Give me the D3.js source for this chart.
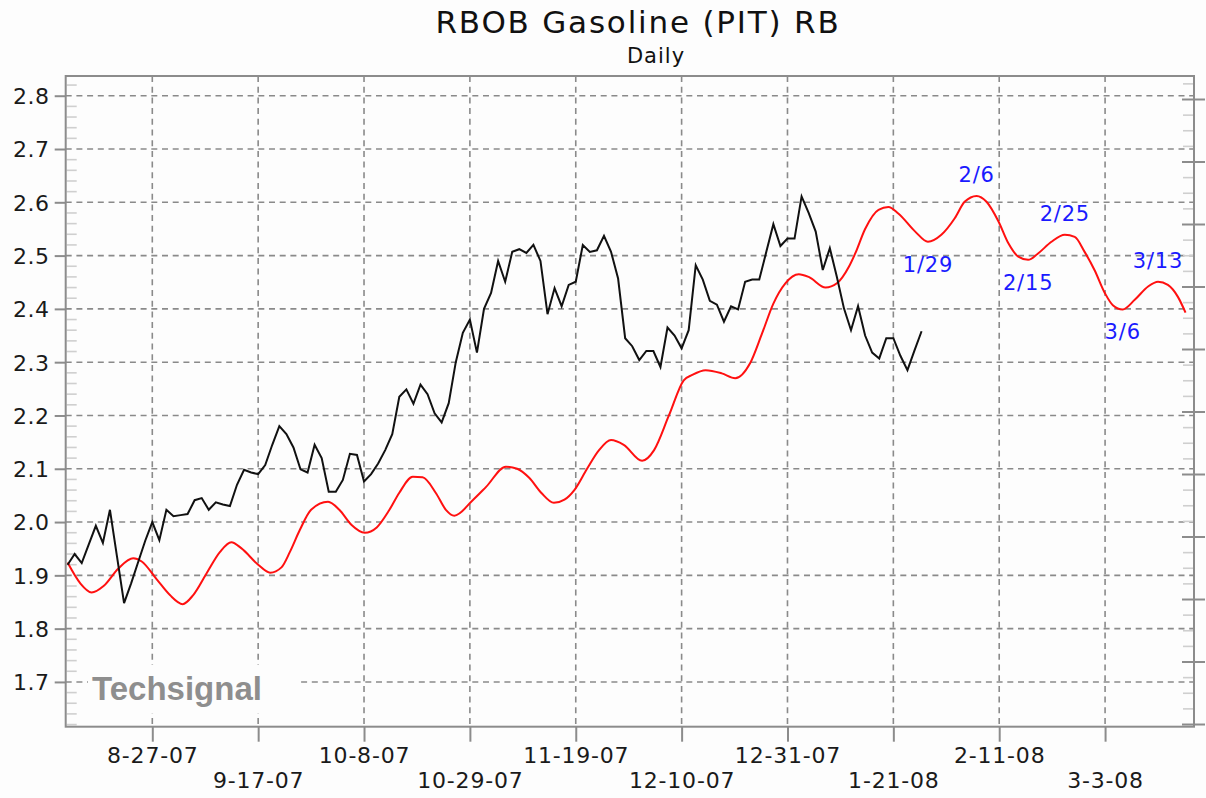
<!DOCTYPE html>
<html>
<head>
<meta charset="utf-8">
<script src="https://cdn.jsdelivr.net/npm/d3@7"></script>
<style>
  html, body { margin: 0; padding: 0; background: #fdfdfd; }
  svg { display: block; font-family: "DejaVu Sans", Verdana, sans-serif; }
</style>
</head>
<body>
<svg id="chart" width="1206" height="798"></svg>
<script>
// ---------------- DATA ----------------
const title = "RBOB Gasoline (PIT) RB";
const subtitle = "Daily";
const watermark = "Techsignal";

// x axis: trading-day index, tick labels every 15 trading days
const xTickIdx = [12, 27, 42, 57, 72, 87, 102, 117, 132, 147];
const xTickLabels = ["8-27-07", "9-17-07", "10-8-07", "10-29-07", "11-19-07",
                     "12-10-07", "12-31-07", "1-21-08", "2-11-08", "3-3-08"];

// y axis ticks (prices)
const yTicks = [1.7, 1.8, 1.9, 2.0, 2.1, 2.2, 2.3, 2.4, 2.5, 2.6, 2.7, 2.8];

// daily closes (black), one per trading day starting at index 0
const priceVals = [
  1.920, 1.940, 1.923, 1.958, 1.993, 1.961, 2.023, 1.935, 1.848, 1.885,
  1.925, 1.965, 2.000, 1.966, 2.023, 2.011, 2.013, 2.015, 2.041, 2.045,
  2.023, 2.037, 2.033, 2.030, 2.070, 2.098, 2.093, 2.090, 2.107, 2.145,
  2.180, 2.165, 2.140, 2.099, 2.093, 2.145, 2.120, 2.057, 2.057, 2.079,
  2.128, 2.126, 2.076, 2.090, 2.110, 2.135, 2.165, 2.235, 2.249, 2.222,
  2.258, 2.240, 2.204, 2.187, 2.223, 2.300, 2.355, 2.380, 2.318, 2.400,
  2.430, 2.490, 2.451, 2.507, 2.512, 2.505, 2.520, 2.490, 2.390, 2.439,
  2.405, 2.445, 2.451, 2.520, 2.507, 2.510, 2.537, 2.507, 2.457, 2.345,
  2.330, 2.304, 2.321, 2.321, 2.291, 2.365, 2.350, 2.326, 2.360, 2.482,
  2.455, 2.415, 2.408, 2.376, 2.405, 2.399, 2.451, 2.455, 2.455, 2.507,
  2.559, 2.518, 2.532, 2.532, 2.611, 2.580, 2.545, 2.473, 2.514, 2.460,
  2.401, 2.360, 2.405, 2.350, 2.318, 2.307, 2.345, 2.345, 2.312, 2.285,
  2.322, 2.358
];

// cycle projection (red): trading-day index and value
const cycleIdx = [
  0, 1.8, 3.4, 5.1, 7.2, 9.3, 10.5, 12.6, 14.5, 16.3,
  17.8, 19.7, 21.6, 23.2, 24.6, 27.0, 28.7, 30.3, 31.5, 32.9,
  34.5, 36.9, 38.5, 40.2, 42.1, 43.8, 45.6, 47.0, 48.9, 50.3,
  52.2, 53.6, 54.8, 57.4, 59.3, 62.1, 63.7, 65.4, 67.1, 68.9,
  70.4, 71.8, 73.6, 75.3, 77.0, 78.8, 81.4, 83.1, 85.2, 87.3,
  88.5, 90.4, 92.7, 94.6, 96.7, 98.4, 100.0, 101.7, 103.6, 105.0,
  107.4, 109.0, 110.7, 111.6, 113.0, 114.9, 116.3, 117.7, 120.1, 121.9,
  123.8, 125.7, 127.1, 128.8, 130.2, 131.9, 133.3, 134.7, 136.1, 137.5,
  139.4, 141.3, 142.7, 144.1, 145.5, 147.0, 148.1, 149.5, 151.2, 153.1,
  154.5, 155.9, 157.3, 158.4
];
const cycleVals = [
  1.924, 1.885, 1.868, 1.880, 1.913, 1.932, 1.926, 1.893, 1.863, 1.846,
  1.863, 1.904, 1.944, 1.962, 1.951, 1.920, 1.905, 1.915, 1.944, 1.985,
  2.023, 2.038, 2.023, 1.995, 1.980, 1.990, 2.023, 2.055, 2.085, 2.084,
  2.054, 2.023, 2.012, 2.041, 2.066, 2.104, 2.100, 2.083, 2.055, 2.036,
  2.042, 2.060, 2.100, 2.135, 2.154, 2.145, 2.115, 2.135, 2.200, 2.266,
  2.276, 2.285, 2.279, 2.270, 2.298, 2.354, 2.410, 2.448, 2.465, 2.460,
  2.440, 2.448, 2.479, 2.504, 2.550, 2.586, 2.591, 2.579, 2.545, 2.526,
  2.539, 2.570, 2.601, 2.612, 2.601, 2.564, 2.523, 2.498, 2.492, 2.504,
  2.526, 2.539, 2.535, 2.507, 2.473, 2.429, 2.407, 2.399, 2.417, 2.442,
  2.451, 2.445, 2.423, 2.393
];

// turning-point annotations on the cycle line
const annLabels = ["1/29", "2/6", "2/15", "2/25", "3/6", "3/13"];
const annIdx    = [121.9, 128.8, 136.1, 141.3, 149.5, 154.5];
const annVals   = [2.526, 2.612, 2.492, 2.539, 2.399, 2.451];
const annSide   = ["below", "above", "below", "above", "below", "above"];

// unlabeled right-hand scale
const rightTicks = [0, 1, 2, 3, 4, 5, 6, 7, 8, 9, 10];

// ---------------- LAYOUT ----------------
const L = 65.7, R = 1194, T = 76, B = 726.7;
const svg = d3.select("#chart");

const x = d3.scaleLinear().domain([-0.27, 159.6]).range([L, R]);
const y = d3.scaleLinear().domain([1.616, 2.837]).range([B, T]);
const yR = d3.scaleLinear().domain([-0.035, 10.376]).range([B, T]);

const gridColor = "#8a8a8a";
const frameColor = "#8c8c8c";

// background
svg.append("rect").attr("x", 0).attr("y", 0).attr("width", 1206).attr("height", 798).attr("fill", "#fdfdfd");

// horizontal gridlines
svg.append("g").selectAll("line").data(yTicks).join("line")
  .attr("x1", L).attr("x2", R)
  .attr("y1", d => y(d)).attr("y2", d => y(d))
  .attr("stroke", gridColor).attr("stroke-width", 1.6)
  .attr("stroke-dasharray", "6,4.7");

// vertical gridlines
svg.append("g").selectAll("line").data(xTickIdx).join("line")
  .attr("x1", d => x(d)).attr("x2", d => x(d))
  .attr("y1", T).attr("y2", B)
  .attr("stroke", gridColor).attr("stroke-width", 1.6)
  .attr("stroke-dasharray", "6,4.7");

// left minor ticks (inside)
const leftMinor = d3.range(1.62, 2.83, 0.02).filter(v => Math.abs(Math.round(v * 10) - v * 10) > 0.01);
svg.append("g").selectAll("line").data(leftMinor).join("line")
  .attr("x1", L + 1).attr("x2", L + 11)
  .attr("y1", d => y(d)).attr("y2", d => y(d))
  .attr("stroke", "#cfcfcf").attr("stroke-width", 1.6);

// right minor ticks (inside)
const rightMinor = [];
for (let k = 0; k < 10; k++) for (let j = 1; j < 4; j++) rightMinor.push(k + j / 4);
rightMinor.push(10.25);
svg.append("g").selectAll("line").data(rightMinor.filter(v => yR(v) > T + 2)).join("line")
  .attr("x1", R - 11).attr("x2", R - 1)
  .attr("y1", d => yR(d)).attr("y2", d => yR(d))
  .attr("stroke", "#cfcfcf").attr("stroke-width", 1.6);

// watermark with white backing box
svg.append("rect").attr("x", 88).attr("y", 665).attr("width", 213).attr("height", 48).attr("fill", "#fdfdfd");
svg.append("text").attr("x", 92).attr("y", 699.5)
  .style("font-family", "'Liberation Sans', Arial, sans-serif")
  .style("font-weight", "bold").style("font-size", "33px")
  .attr("fill", "#8e8e8e").text(watermark);

// frame
svg.append("rect").attr("x", L).attr("y", T).attr("width", R - L).attr("height", B - T)
  .attr("fill", "none").attr("stroke", frameColor).attr("stroke-width", 2);

// left major ticks + labels
const yAxis = svg.append("g").attr("transform", `translate(${L},0)`)
  .call(d3.axisLeft(y).tickValues(yTicks).tickFormat(d3.format(".1f")).tickSize(11).tickPadding(5));
yAxis.select(".domain").remove();
yAxis.selectAll(".tick line").attr("stroke", frameColor).attr("stroke-width", 2);
yAxis.selectAll(".tick text")
  .style("font-family", "'DejaVu Sans', Verdana, sans-serif")
  .style("font-size", "22px").attr("letter-spacing", 0.6).attr("fill", "#1a1a1a")
  .attr("dy", "0.36em");

// right major ticks (no labels, crossing the frame)
svg.append("g").selectAll("line").data(rightTicks.filter(v => yR(v) > T + 2 && yR(v) < B - 1)).join("line")
  .attr("x1", R - 12).attr("x2", R + 11)
  .attr("y1", d => yR(d)).attr("y2", d => yR(d))
  .attr("stroke", frameColor).attr("stroke-width", 2);

// bottom ticks + staggered labels
const xAxis = svg.append("g").attr("transform", `translate(0,${B})`)
  .call(d3.axisBottom(x).tickValues(xTickIdx).tickFormat((d, i) => xTickLabels[i]).tickSize(15));
xAxis.select(".domain").remove();
xAxis.selectAll(".tick line").attr("stroke", frameColor).attr("stroke-width", 2);
xAxis.selectAll(".tick text")
  .style("font-family", "'DejaVu Sans', Verdana, sans-serif")
  .style("font-size", "22px").attr("letter-spacing", 0.8).attr("fill", "#1a1a1a")
  .attr("y", (d, i) => i % 2 === 0 ? 36.5 : 61.5)
  .attr("dy", 0);

// cycle line (red)
const cyclePts = cycleIdx.map((d, i) => [d, cycleVals[i]]);
svg.append("path").datum(cyclePts)
  .attr("fill", "none").attr("stroke", "#ff1010").attr("stroke-width", 2)
  .attr("d", d3.line().x(d => x(d[0])).y(d => y(d[1])).curve(d3.curveMonotoneX));

// price line (black)
svg.append("path").datum(priceVals)
  .attr("fill", "none").attr("stroke", "#111").attr("stroke-width", 2)
  .attr("stroke-linejoin", "miter")
  .attr("d", d3.line().x((d, i) => x(i)).y(d => y(d)));

// annotations
svg.append("g").selectAll("text").data(annLabels).join("text")
  .attr("x", (d, i) => x(annIdx[i]))
  .attr("y", (d, i) => y(annVals[i]) + (annSide[i] === "above" ? -14 : 30))
  .attr("text-anchor", "middle")
  .style("font-size", "21px").attr("letter-spacing", 0.8)
  .attr("fill", "#1a1aff").text(d => d);

// titles
svg.append("text").attr("x", 638).attr("y", 33).attr("text-anchor", "middle")
  .style("font-size", "31px").attr("letter-spacing", 1.8).attr("fill", "#111").text(title);
svg.append("text").attr("x", 656).attr("y", 63).attr("text-anchor", "middle")
  .style("font-size", "21px").attr("letter-spacing", 1).attr("fill", "#111").text(subtitle);
</script>
</body>
</html>
